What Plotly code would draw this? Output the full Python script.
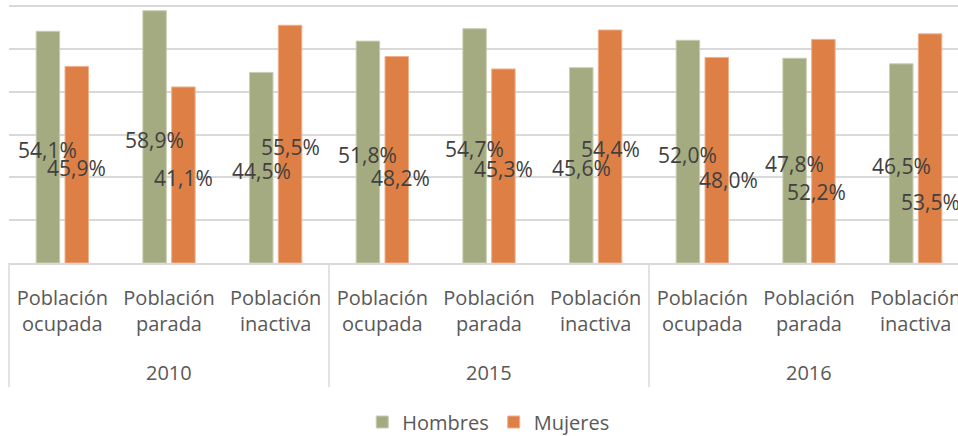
import plotly.graph_objects as go

# ---- data ----
years = ["2010", "2015", "2016"]
groups = ["Población<br>ocupada", "Población<br>parada", "Población<br>inactiva"]
hombres = [54.1, 58.9, 44.5, 51.8, 54.7, 45.6, 52.0, 47.8, 46.5]
mujeres = [45.9, 41.1, 55.5, 48.2, 45.3, 54.4, 48.0, 52.2, 53.5]

# manual nudges of some data labels (pixels), as in the source chart
muj_dx = [0, 0, 0, 4, 0, 0, 12, -7, 0]
muj_dy = [0, 0, 0, -15, 0, 0, -17, -38, -51]

GREEN = "#A5AB80"
ORANGE = "#DE8046"
GRID = "#D9D9D9"
FONT = "Open Sans"

idx = list(range(len(hombres)))
ticktext = groups * len(years)

W, H = 958, 436
ML, MR, MT, MB = 9, 0, 4, 173
plot_w = W - ML - MR
plot_h = H - MT - MB
cat_px = 320 / 3.0  # pixels per category
YMAX = 60
ytop = YMAX * plot_h / (plot_h - 2)  # keep the 60 gridline just inside the frame

BW = 0.22
fig = go.Figure()
fig.add_trace(go.Bar(
    x=idx, y=hombres, name="Hombres", width=BW, offset=-0.245,
    marker=dict(color=GREEN, line=dict(color="#C9CDB3", width=1)),
    hoverinfo="y",
))
fig.add_trace(go.Bar(
    x=idx, y=mujeres, name="Mujeres", width=BW, offset=0.025,
    marker=dict(color=ORANGE, line=dict(color="#EFB08A", width=1)),
    hoverinfo="y",
))

def fmt(v):
    return f"{v:.1f}".replace(".", ",") + "%"

ann = []
for i in idx:
    ann.append(dict(x=i - 0.135, y=hombres[i] / 2, xref="x", yref="y",
                    text=fmt(hombres[i]), showarrow=False, yshift=-3,
                    font=dict(family=FONT, size=21, color="#404040")))
    ann.append(dict(x=i + 0.135, y=mujeres[i] / 2, xref="x", yref="y",
                    text=fmt(mujeres[i]), showarrow=False,
                    xshift=muj_dx[i], yshift=-3 + muj_dy[i],
                    font=dict(family=FONT, size=21, color="#404040")))
for k, yr in enumerate(years):
    ann.append(dict(x=3 * k + 1, y=0, xref="x", yref="paper", yshift=-109,
                    yanchor="middle", text=yr, showarrow=False,
                    font=dict(family=FONT, size=20, color="#595959")))

shapes = []
ybot = -124 / plot_h
shapes.append(dict(type="line", xref="paper", yref="paper", x0=0, x1=0,
                   y0=0, y1=ybot, line=dict(color=GRID, width=1.5)))
for k in range(1, len(years)):
    xv = 3 * k - 0.5
    shapes.append(dict(type="line", xref="x", yref="paper", x0=xv, x1=xv,
                       y0=0, y1=ybot, line=dict(color=GRID, width=1.5)))

fig.update_layout(
    template="none",
    width=W, height=H,
    margin=dict(l=ML, r=MR, t=MT, b=MB, pad=0, autoexpand=False),
    paper_bgcolor="white", plot_bgcolor="white",
    barmode="group",
    font=dict(family=FONT, color="#595959"),
    xaxis=dict(range=[-0.5, -0.5 + plot_w / cat_px], tickvals=idx, ticktext=ticktext,
               showgrid=False, zeroline=False, showline=True, linecolor=GRID, linewidth=1.5,
               ticks="outside", ticklen=16, tickcolor="rgba(0,0,0,0)",
               ticklabeloverflow="allow", automargin=False,
               tickfont=dict(family=FONT, size=20, color="#595959"), fixedrange=True),
    yaxis=dict(range=[0, ytop], dtick=10, showticklabels=False, gridcolor=GRID,
               gridwidth=1.5, zeroline=False, showline=False, automargin=False,
               fixedrange=True),
    legend=dict(orientation="h", x=0.505, xanchor="center", y=-159 / plot_h,
                yanchor="middle", font=dict(family=FONT, size=20, color="#595959"),
                itemclick=False, itemdoubleclick=False, bgcolor="rgba(0,0,0,0)",
                itemwidth=30, tracegroupgap=0),
    annotations=ann,
    shapes=shapes,
)

fig.write_html("out.html", config={"displayModeBar": False},
               post_script="document.body.style.margin='0';document.body.style.overflow='hidden';")
